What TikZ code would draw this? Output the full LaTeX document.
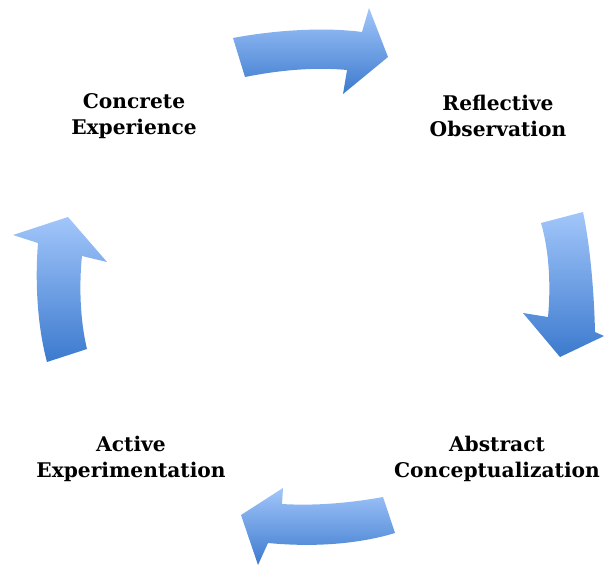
\documentclass[tikz,border=0pt]{standalone}
\usepackage{fontspec}
\setmainfont{DejaVu Serif}

\definecolor{arrowtop}{RGB}{162,198,250}
\definecolor{arrowbot}{RGB}{60,122,206}

\tikzset{
    stage/.style={align=center, inner sep=0pt, font=\bfseries\fontsize{20.2}{26}\selectfont},
    cyclearrow/.style={top color=arrowtop, bottom color=arrowbot, draw=none}
}

\begin{document}
\begin{tikzpicture}[x=1pt, y=-1pt]
        \useasboundingbox (0, 0) rectangle (605, 567);

        \node[stage] (cexp) at (134, 116) {Concrete\\Experience};
        \node[stage] (robs) at (498, 116) {Reflective\\Observation};
        \node[stage] (acon) at (497, 459) {Abstract\\Conceptualization};
        \node[stage] (aexp) at (131, 459) {Active\\Experimentation};

        % the four turning arrows
        \path[cyclearrow] (233, 38) .. controls (275, 30) and (325, 27) .. (362, 32) -- (369, 8) -- (388, 57)
            -- (343, 94) -- (347, 70) .. controls (315, 67) and (280, 70) .. (245, 77) -- cycle;
        \path[cyclearrow] (541, 223) -- (583, 212) .. controls (590, 245) and (594, 290) .. (595, 332) -- (604, 336)
            -- (560, 357) -- (523, 313) -- (548, 317) .. controls (551, 285) and (549, 250) .. (541, 223) -- cycle;
        \path[cyclearrow] (383, 497) -- (395, 533) .. controls (355, 545) and (310, 547) .. (268, 543) -- (258, 565)
            -- (241, 515) -- (283, 488) -- (282, 504) .. controls (315, 506) and (350, 503) .. (383, 497) -- cycle;
        \path[cyclearrow] (47, 362) -- (87, 349) .. controls (80, 320) and (79, 285) .. (82, 256) -- (107, 262)
            -- (68, 217) -- (13, 235) -- (38, 243) .. controls (35, 280) and (37, 325) .. (47, 362) -- cycle;
\end{tikzpicture}
\end{document}
